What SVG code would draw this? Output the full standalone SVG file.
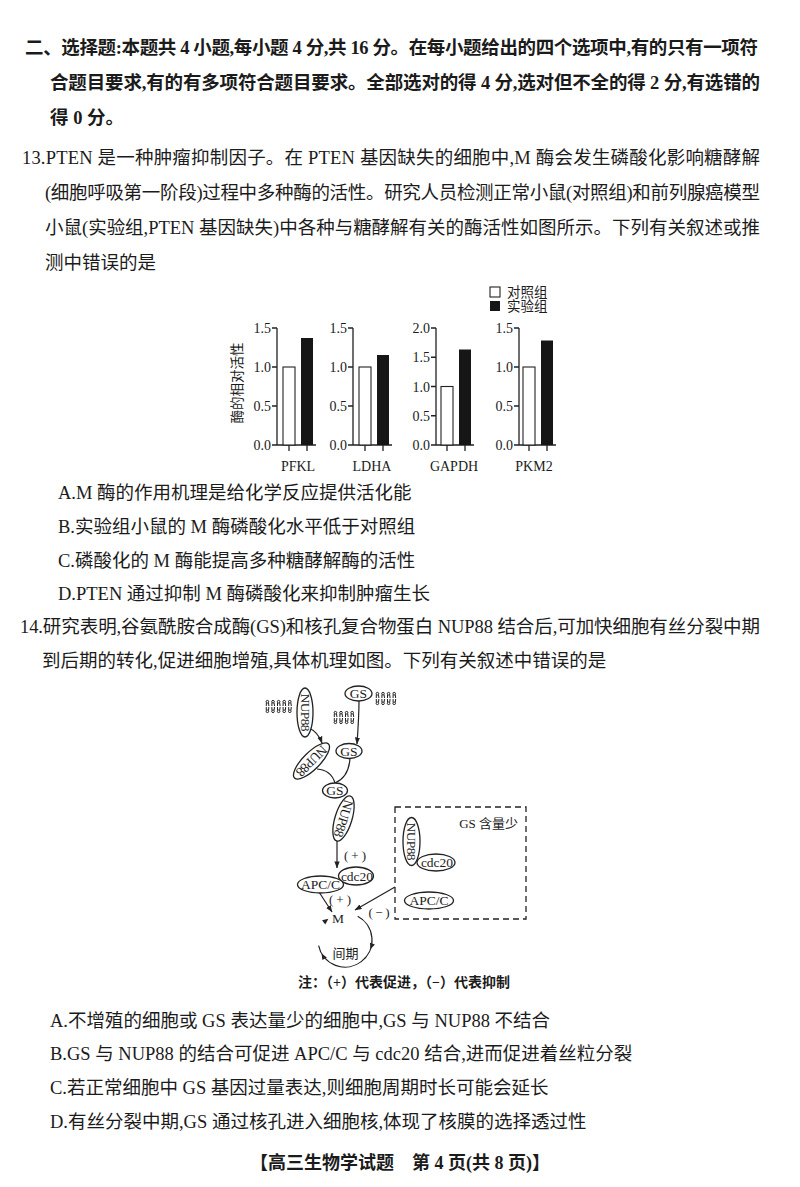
<svg xmlns="http://www.w3.org/2000/svg" xmlns:xlink="http://www.w3.org/1999/xlink" width="800" height="1187" viewBox="0 0 800 1187">
<style>
.t{font-family:'Liberation Serif','Noto Sans CJK SC',serif;font-size:18.5px;fill:#1b1b1b}
.b{font-weight:bold}
.s{font-family:'Liberation Serif','Noto Sans CJK SC',serif;font-size:12px;fill:#1b1b1b}
.tk{font-family:'Liberation Serif',serif;font-size:14px;fill:#1b1b1b}
.ax{stroke:#222;stroke-width:1.3;fill:none}
.w{fill:#fff;stroke:#222;stroke-width:1.1}
.k{fill:#161616}
.nd ellipse{fill:#fff;stroke:#222;stroke-width:1.3}
.nl{font-family:'Liberation Serif',serif;font-size:13.5px;fill:#1b1b1b;text-anchor:middle}
.conn{stroke:#222;stroke-width:1.2;fill:none}
.lip{stroke:#222;stroke-width:1;fill:none}
</style>
<defs>
<marker id="ah" viewBox="0 0 8 6" refX="7.5" refY="3" markerWidth="7" markerHeight="5.5" markerUnits="userSpaceOnUse" orient="auto"><path d="M0,0 L8,3 L0,6 z" fill="#222"/></marker>
<path id="tri" d="M-6,-2.6 L0,0 L-6,2.6 z" fill="#222"/>
<g id="lu" class="lip"><circle cx="2.4" cy="1.7" r="1.3"/><path d="M1.3,2.8 V6 M3.5,2.8 L3.9,6"/><circle cx="2.4" cy="11.3" r="1.3"/><path d="M1.3,10.2 V7 M3.5,10.2 L3.9,7"/></g>
</defs>
<rect width="800" height="1187" fill="#fff"/>

<g id="header">
<text class="t b" x="25" y="54" textLength="733">二、选择题:本题共 4 小题,每小题 4 分,共 16 分。在每小题给出的四个选项中,有的只有一项符</text>
<text class="t b" x="50" y="89" textLength="710">合题目要求,有的有多项符合题目要求。全部选对的得 4 分,选对但不全的得 2 分,有选错的</text>
<text class="t b" x="50" y="124">得 0 分。</text>
</g>

<g id="q13">
<text class="t" x="22" y="164" textLength="738">13.PTEN 是一种肿瘤抑制因子。在 PTEN 基因缺失的细胞中,M 酶会发生磷酸化影响糖酵解</text>
<text class="t" x="45" y="199" textLength="715">(细胞呼吸第一阶段)过程中多种酶的活性。研究人员检测正常小鼠(对照组)和前列腺癌模型</text>
<text class="t" x="45" y="234" textLength="715">小鼠(实验组,PTEN 基因缺失)中各种与糖酵解有关的酶活性如图所示。下列有关叙述或推</text>
<text class="t" x="45" y="269">测中错误的是</text>
</g>

<g id="chart">
<g id="legend">
<rect x="490" y="287" width="10" height="10" class="w"/>
<rect x="490" y="301" width="10" height="10" class="k"/>
<text class="s" x="507" y="297" style="font-size:13.5px">对照组</text>
<text class="s" x="507" y="311" style="font-size:13.5px">实验组</text>
</g>
<text class="s" transform="translate(242,383) rotate(-90)" text-anchor="middle" style="font-size:13.5px">酶的相对活性</text>
<g id="p1">
<path class="ax" d="M277,328 V445 H316 M272,328 H277 M272,367 H277 M272,406 H277 M272,445 H277 M289,445 V451 M307,445 V451"/>
<text class="tk" x="271" y="333" text-anchor="end">1.5</text>
<text class="tk" x="271" y="372" text-anchor="end">1.0</text>
<text class="tk" x="271" y="411" text-anchor="end">0.5</text>
<text class="tk" x="271" y="450" text-anchor="end">0.0</text>
<rect class="w" x="283" y="367" width="12" height="78"/>
<rect class="k" x="301" y="338" width="12" height="107"/>
<text class="tk" x="298" y="471" text-anchor="middle">PFKL</text>
</g>
<g id="p2">
<path class="ax" d="M353,328 V445 H392 M348,328 H353 M348,367 H353 M348,406 H353 M348,445 H353 M365,445 V451 M383,445 V451"/>
<text class="tk" x="347" y="333" text-anchor="end">1.5</text>
<text class="tk" x="347" y="372" text-anchor="end">1.0</text>
<text class="tk" x="347" y="411" text-anchor="end">0.5</text>
<text class="tk" x="347" y="450" text-anchor="end">0.0</text>
<rect class="w" x="359" y="367" width="12" height="78"/>
<rect class="k" x="377" y="355" width="12" height="90"/>
<text class="tk" x="372" y="471" text-anchor="middle">LDHA</text>
</g>
<g id="p3">
<path class="ax" d="M436,328 V445 H474 M431,328 H436 M431,357.25 H436 M431,386.5 H436 M431,415.75 H436 M431,445 H436 M447,445 V451 M465,445 V451"/>
<text class="tk" x="430" y="333" text-anchor="end">2.0</text>
<text class="tk" x="430" y="362" text-anchor="end">1.5</text>
<text class="tk" x="430" y="391.5" text-anchor="end">1.0</text>
<text class="tk" x="430" y="420.5" text-anchor="end">0.5</text>
<text class="tk" x="430" y="450" text-anchor="end">0.0</text>
<rect class="w" x="441" y="386.5" width="12" height="58.5"/>
<rect class="k" x="459" y="349.5" width="12" height="95.5"/>
<text class="tk" x="454" y="471" text-anchor="middle">GAPDH</text>
</g>
<g id="p4">
<path class="ax" d="M519,328 V445 H556 M514,328 H519 M514,367 H519 M514,406 H519 M514,445 H519 M529,445 V451 M547,445 V451"/>
<text class="tk" x="513" y="333" text-anchor="end">1.5</text>
<text class="tk" x="513" y="372" text-anchor="end">1.0</text>
<text class="tk" x="513" y="411" text-anchor="end">0.5</text>
<text class="tk" x="513" y="450" text-anchor="end">0.0</text>
<rect class="w" x="523" y="367" width="12" height="78"/>
<rect class="k" x="541" y="340.5" width="12" height="104.5"/>
<text class="tk" x="534" y="471" text-anchor="middle">PKM2</text>
</g>
</g>

<g id="q13-options">
<text class="t" x="58" y="499">A.M 酶的作用机理是给化学反应提供活化能</text>
<text class="t" x="58" y="533">B.实验组小鼠的 M 酶磷酸化水平低于对照组</text>
<text class="t" x="58" y="567">C.磷酸化的 M 酶能提高多种糖酵解酶的活性</text>
<text class="t" x="58" y="600">D.PTEN 通过抑制 M 酶磷酸化来抑制肿瘤生长</text>
</g>

<g id="q14">
<text class="t" x="20" y="633" textLength="740">14.研究表明,谷氨酰胺合成酶(GS)和核孔复合物蛋白 NUP88 结合后,可加快细胞有丝分裂中期</text>
<text class="t" x="42" y="667">到后期的转化,促进细胞增殖,具体机理如图。下列有关叙述中错误的是</text>
</g>

<g id="diagram">
<g id="lipids">
<use xlink:href="#lu" x="265" y="700"/><use xlink:href="#lu" x="270.6" y="700"/><use xlink:href="#lu" x="276.2" y="700"/><use xlink:href="#lu" x="281.8" y="700"/><use xlink:href="#lu" x="287.4" y="700"/>
<use xlink:href="#lu" x="333" y="711"/><use xlink:href="#lu" x="338.6" y="711"/><use xlink:href="#lu" x="344.2" y="711"/><use xlink:href="#lu" x="349.8" y="711"/>
<use xlink:href="#lu" x="375" y="692"/><use xlink:href="#lu" x="380.6" y="692"/><use xlink:href="#lu" x="386.2" y="692"/><use xlink:href="#lu" x="391.8" y="692"/>
</g>

<g id="connectors">
<path class="conn" d="M309,728 Q318,732 322,743" marker-end="url(#ah)"/>
<path class="conn" d="M359,700.5 C359,715 358,730 357,744" marker-end="url(#ah)"/>
<path class="conn" d="M317,769 Q331,770 335,783"/>
<path class="conn" d="M350,758 Q349,777 335,783"/>
<path class="conn" d="M337,841 L337,868" marker-end="url(#ah)"/>
<path class="conn" d="M319,892 L332,912" marker-end="url(#ah)"/>
<path class="conn" d="M395,887 L355,910" marker-end="url(#ah)"/>
<path class="conn" d="M357.7,916.2 A27,27 0 1 1 318.6,945.6"/>
<use xlink:href="#tri" transform="translate(370.4,949.2) rotate(110)"/>
<use xlink:href="#tri" transform="translate(321.6,953.5) rotate(240)"/>
<use xlink:href="#tri" transform="translate(328.4,918.7) rotate(-38)"/>
<text class="s" x="355" y="860" text-anchor="middle" textLength="22" style="font-size:13px">(+)</text>
<text class="s" x="340" y="904" text-anchor="middle" textLength="22" style="font-size:13px">(+)</text>
<text class="s" x="379" y="917" text-anchor="middle" textLength="21" style="font-size:13px">(−)</text>
</g>

<g id="nup88-a" class="nd" transform="translate(305,712.5) rotate(90)"><ellipse rx="24.5" ry="8"/><text class="nl" y="4.5" textLength="38">NUP88</text></g>
<g id="gs-a" class="nd"><ellipse cx="358.5" cy="693.5" rx="13.5" ry="7.5"/><text class="nl" x="358.5" y="698">GS</text></g>
<g id="nup88-b" class="nd" transform="translate(311.5,761) rotate(135)"><ellipse rx="24" ry="8.5"/><text class="nl" y="4.5" textLength="38">NUP88</text></g>
<g id="gs-b" class="nd"><ellipse cx="349" cy="751" rx="13" ry="7.5"/><text class="nl" x="349" y="755.5">GS</text></g>
<g id="nup88-c" class="nd" transform="translate(343.5,818.5) rotate(107)"><ellipse rx="23.5" ry="8.5"/><text class="nl" y="4.5" textLength="38">NUP88</text></g>
<g id="gs-c" class="nd"><ellipse cx="335" cy="790.5" rx="12.5" ry="7.5"/><text class="nl" x="335" y="795">GS</text></g>
<g id="cdc20-a" class="nd"><ellipse cx="356" cy="876" rx="17.5" ry="9"/><text class="nl" x="357" y="880.5">cdc20</text></g>
<g id="apcc-a" class="nd"><ellipse cx="320.5" cy="884.5" rx="23" ry="8.5"/><text class="nl" x="320.5" y="889">APC/C</text></g>
<g id="m-phase"><text class="nl" x="338" y="923">M</text></g>
<g id="interphase"><text class="s" x="345.5" y="958" text-anchor="middle" style="font-size:13px">间期</text></g>

<g id="low-gs-box">
<rect x="395" y="807" width="131" height="112" fill="none" stroke="#222" stroke-width="1.3" stroke-dasharray="6 4"/>
<text class="s" x="518" y="827.5" text-anchor="end" style="font-size:13px">GS 含量少</text>
<g id="nup88-d" class="nd" transform="translate(411.5,841.5) rotate(90)"><ellipse rx="24" ry="8.5"/><text class="nl" y="4.5" textLength="38">NUP88</text></g>
<g id="cdc20-b" class="nd"><ellipse cx="436" cy="862.5" rx="19" ry="8.5"/><text class="nl" x="437" y="867">cdc20</text></g>
<g id="apcc-b" class="nd"><ellipse cx="429" cy="900.5" rx="24.5" ry="8.5"/><text class="nl" x="429" y="905">APC/C</text></g>
</g>

<text class="s" x="298" y="987" textLength="212" style="font-size:14px;font-weight:bold">注：（+）代表促进，（−）代表抑制</text>
</g>

<g id="q14-options">
<text class="t" x="50" y="1027">A.不增殖的细胞或 GS 表达量少的细胞中,GS 与 NUP88 不结合</text>
<text class="t" x="50" y="1060">B.GS 与 NUP88 的结合可促进 APC/C 与 cdc20 结合,进而促进着丝粒分裂</text>
<text class="t" x="50" y="1094">C.若正常细胞中 GS 基因过量表达,则细胞周期时长可能会延长</text>
<text class="t" x="50" y="1128">D.有丝分裂中期,GS 通过核孔进入细胞核,体现了核膜的选择透过性</text>
</g>

<text class="t b" x="400" y="1169" text-anchor="middle" style="font-size:18px">【高三生物学试题　第 4 页(共 8 页)】</text>
</svg>
